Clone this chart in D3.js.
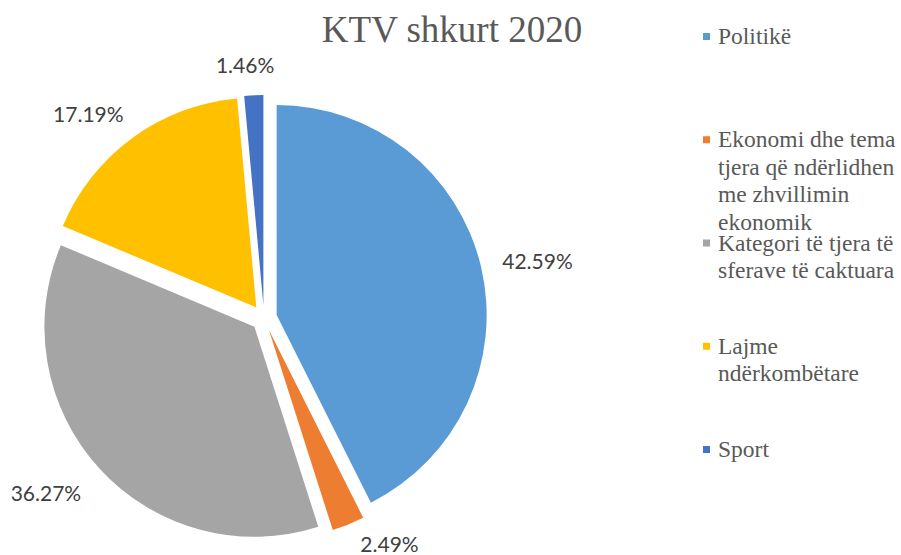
<!DOCTYPE html>
<html>
<head>
<meta charset="utf-8">
<script src="https://cdn.jsdelivr.net/npm/d3@7"></script>
<style>
    body { margin: 0; background: #fff; }
    svg { display: block; }
</style>
</head>
<body>
<svg id="chart" width="901" height="555"></svg>
<script>
// data
let categories = [
    "Politikë",
    "Ekonomi dhe tema tjera që ndërlidhen me zhvillimin ekonomik",
    "Kategori të tjera të sferave të caktuara",
    "Lajme ndërkombëtare",
    "Sport"
];
let values = [42.59, 2.49, 36.27, 17.19, 1.46];
let colors = ["#5B9BD5", "#ED7D31", "#A5A5A5", "#FFC000", "#4472C4"];
let title = "KTV shkurt 2020";

let width = 901, height = 555;
let cx = 264, cy = 318;
let radius = 210;
let explode = 13;

let svg = d3.select("#chart");

svg.append("text")
    .attr("x", 452)
    .attr("y", 42)
    .attr("text-anchor", "middle")
    .attr("font-family", "'Liberation Serif', 'Times New Roman', serif")
    .attr("font-size", 37)
    .attr("fill", "#595959")
    .text(title);

let pie = d3.pie().sort(null).value(d => d);
let arcs = pie(values);
let arc = d3.arc().innerRadius(0).outerRadius(radius);

// unit vector along the bisector of a slice (screen coords)
function dirOf(d) {
    let a = (d.startAngle + d.endAngle) / 2;
    return [Math.sin(a), -Math.cos(a)];
}

let g = svg.append("g").attr("transform", `translate(${cx},${cy})`);

g.selectAll("path")
    .data(arcs)
    .enter()
    .append("path")
    .attr("d", arc)
    .attr("fill", (d, i) => colors[i])
    .attr("transform", d => {
        let [ux, uy] = dirOf(d);
        return `translate(${ux * explode},${uy * explode})`;
    });

// percentage labels, placed outside end like Excel does
let labelR = 252;
let labelOrigin = [cx - 6, cy + 3];
let labelMinY = 60, labelMaxY = 545;

let labels = svg.append("g")
    .selectAll("text")
    .data(arcs)
    .enter()
    .append("text")
    .attr("text-anchor", "middle")
    .attr("dy", "0.35em")
    .attr("font-family", "Lato, 'Open Sans', sans-serif")
    .attr("font-size", 21)
    .attr("fill", "#404040")
    .text(d => d3.format(".2f")(d.data) + "%");

labels.each(function(d) {
    let t = d3.select(this);
    let w = this.getComputedTextLength();
    let [ux, uy] = dirOf(d);
    let x = labelOrigin[0] + ux * labelR + ux * w / 2;
    let y = labelOrigin[1] + uy * labelR + uy * 4;
    // keep inside the plot, sliding along the same circle
    if (y > labelMaxY || y < labelMinY) {
        let dist = Math.hypot(x - labelOrigin[0], y - labelOrigin[1]);
        let ny = y > labelMaxY ? labelMaxY : labelMinY;
        let dy = ny - labelOrigin[1];
        let dx = Math.sqrt(Math.max(dist * dist - dy * dy, 0));
        x = labelOrigin[0] + (ux >= 0 ? dx : -dx);
        y = ny;
    }
    t.attr("x", x).attr("y", y);
});

/**
 * Wraps legend text to a width, like bl.ocks.org/mbostock/7555321
 */
function wrap(text, width, x, lineHeight) {
    text.each(function() {
        let text = d3.select(this),
            words = text.text().split(/\s+/).reverse(),
            word,
            line = [],
            lineNumber = 0,
            y = text.attr("y"),
            tspan = text.text(null).append("tspan").attr("x", x).attr("y", y);
        while (word = words.pop()) {
            line.push(word);
            tspan.text(line.join(" "));
            if (tspan.node().getComputedTextLength() > width && line.length > 1) {
                line.pop();
                tspan.text(line.join(" "));
                line = [word];
                tspan = text.append("tspan")
                    .attr("x", x)
                    .attr("y", y)
                    .attr("dy", ++lineNumber * lineHeight + "px")
                    .text(word);
            }
        }
    });
}

// legend
let legendY = d3.scaleLinear().domain([0, categories.length - 1]).range([44, 457]);
let legendX = 703;

let legend = svg.append("g")
    .selectAll("g")
    .data(categories)
    .enter()
    .append("g");

legend.append("rect")
    .attr("x", legendX)
    .attr("y", (d, i) => legendY(i) - 11)
    .attr("width", 7)
    .attr("height", 7)
    .attr("fill", (d, i) => colors[i]);

legend.append("text")
    .attr("x", legendX + 15)
    .attr("y", (d, i) => legendY(i))
    .attr("font-family", "'Liberation Serif', 'Times New Roman', serif")
    .attr("font-size", 23.5)
    .attr("fill", "#595959")
    .text(d => d)
    .call(wrap, 183, legendX + 15, 27.5);
</script>
</body>
</html>
